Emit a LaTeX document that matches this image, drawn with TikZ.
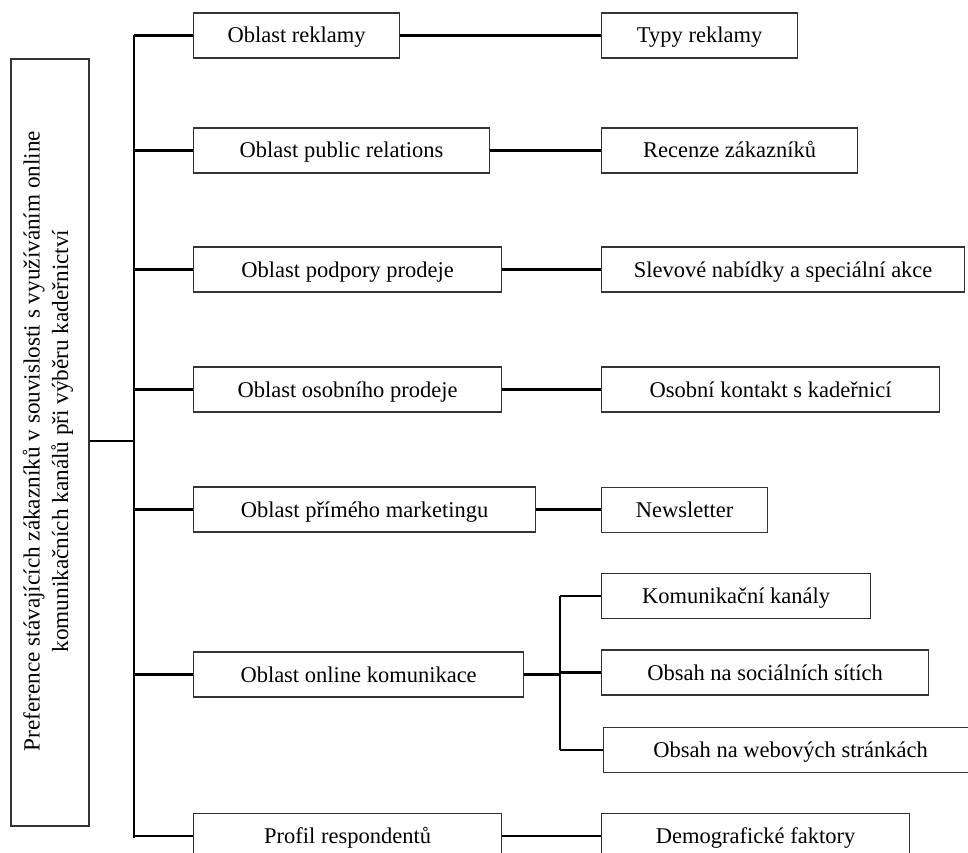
\documentclass[tikz,border=0pt]{standalone}
\usepackage{fontspec}
\setmainfont{Liberation Serif}
\begin{document}
\begin{tikzpicture}[x=1pt,y=-1pt,
  bx/.style={draw=black!80, line width=1.2pt, fill=white, minimum height=45pt, inner sep=0pt, anchor=west,
    text height=20pt, text depth=5pt, font=\fontsize{22.5}{28}\selectfont},
  conn/.style={draw=black, line width=2.2pt}]
\useasboundingbox (0,0) rectangle (968,853);
\clip (0,0) rectangle (968,853);
\fill[white] (0,0) rectangle (968,853);

% root box
\node[draw=black!80, line width=1.2pt, minimum width=78pt, minimum height=767pt, inner sep=0pt] (root) at (50,442.5) {};
\node[rotate=90, align=center, font=\fontsize{23.2}{28.5}\selectfont] (roottext) at (48,441)
  {Preference stávajících zákazníků v souvislosti s využíváním online\\komunikačních kanálů při výběru kadeřnictví};

% main boxes
\node[bx, minimum width=206pt] (m1) at (193,35.5) {Oblast reklamy};
\node[bx, minimum width=296pt] (m2) at (193,150.5) {Oblast public relations};
\node[bx, minimum width=308pt] (m3) at (193,269.5) {Oblast podpory prodeje};
\node[bx, minimum width=308pt] (m4) at (193,389.5) {Oblast osobního prodeje};
\node[bx, minimum width=342pt] (m5) at (193,509.5) {Oblast přímého marketingu};
\node[bx, minimum width=330pt] (m6) at (193,674.5) {Oblast online komunikace};
\node[bx, minimum width=308pt] (m7) at (193,836) {Profil respondentů};

% right boxes
\node[bx, minimum width=196pt] (r1) at (601,35.5) {Typy reklamy};
\node[bx, minimum width=256pt] (r2) at (601,150.5) {Recenze zákazníků};
\node[bx, minimum width=363pt] (r3) at (601,269.5) {Slevové nabídky a speciální akce};
\node[bx, minimum width=338pt] (r4) at (601,389.5) {Osobní kontakt s kadeřnicí};
\node[bx, minimum width=166pt] (r5) at (601,510) {Newsletter};
\node[bx, minimum width=269pt] (s1) at (601,596) {Komunikační kanály};
\node[bx, minimum width=327pt] (s2) at (601,672.5) {Obsah na sociálních sítích};
\node[bx, minimum width=374pt] (s3) at (603,750) {Obsah na webových stránkách};
\node[bx, minimum width=308pt] (r7) at (601,836) {Demografické faktory};

% trunk
\coordinate (ttop) at (134,35.5);
\coordinate (tbot) at (134,838);
\draw[conn] (ttop) -- (tbot);
\draw[conn] (root.east |- 0,441) -- (134,441);
\foreach \m in {m1,m2,m3,m4,m5,m6,m7}{
  \draw[conn] (\m.west -| ttop) -- (\m.west);
}
% main to right
\draw[conn] (m1.east) -- (r1.west);
\draw[conn] (m2.east) -- (r2.west);
\draw[conn] (m3.east) -- (r3.west);
\draw[conn] (m4.east) -- (r4.west);
\draw[conn] (m5.east) -- (m5.east -| r5.west);
\draw[conn] (m7.east) -- (r7.west);

% online sub-tree
\coordinate (stop) at (560,596);
\coordinate (sbot) at (560,750);
\draw[conn] (stop) -- (sbot);
\draw[conn] (m6.east) -- (m6.east -| stop);
\draw[conn] (s1.west -| stop) -- (s1.west);
\draw[conn] (s2.west -| stop) -- (s2.west);
\draw[conn] (s3.west -| stop) -- (s3.west);
\end{tikzpicture}
\end{document}
